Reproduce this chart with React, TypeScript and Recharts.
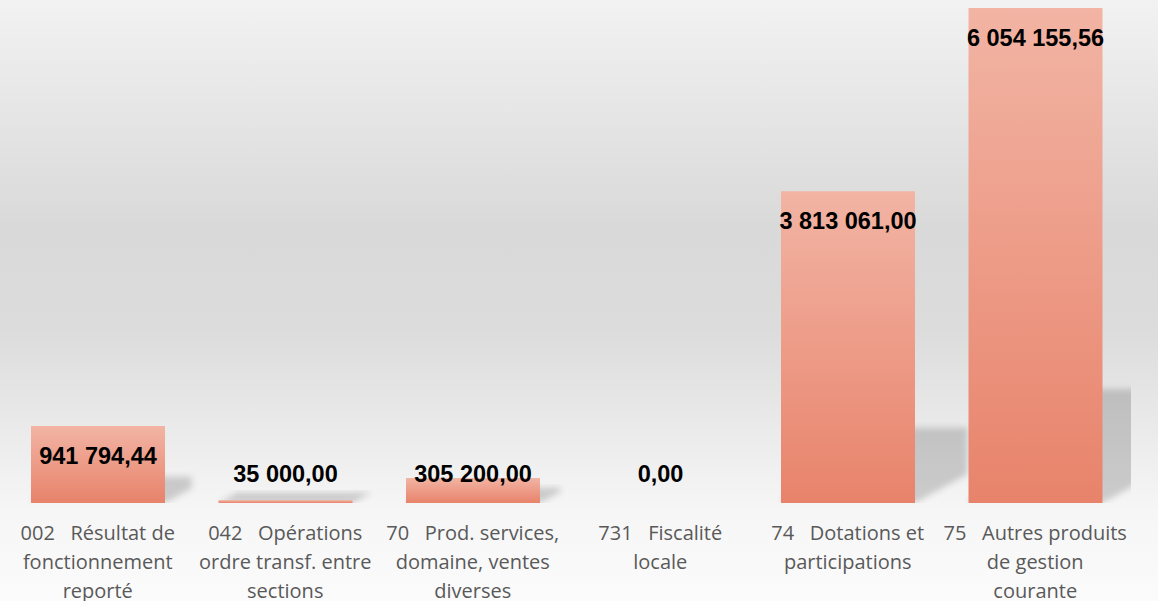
import React from 'react';
import { BarChart, Bar, XAxis, YAxis, LabelList } from 'recharts';

const categories = [
  '002 Résultat de fonctionnement reporté',
  '042 Opérations ordre transf. entre sections',
  '70 Prod. services, domaine, ventes diverses',
  '731 Fiscalité locale',
  '74 Dotations et participations',
  '75 Autres produits de gestion courante',
];

const tickLines = [
  ['002   Résultat de', 'fonctionnement', 'reporté'],
  ['042   Opérations', 'ordre transf. entre', 'sections'],
  ['70   Prod. services,', 'domaine, ventes', 'diverses'],
  ['731   Fiscalité', 'locale'],
  ['74   Dotations et', 'participations'],
  ['75   Autres produits', 'de gestion', 'courante'],
];

const amounts = [941794.44, 35000.0, 305200.0, 0.0, 3813061.0, 6054155.56];

const data = categories.map((name, i) => ({ name, value: amounts[i] }));

const W = 1158;
const H = 601;
const margin = { top: 8, right: 29, left: 4, bottom: 0 };
const axisH = 98;

const fmt = (v: number) => {
  const [i, d] = v.toFixed(2).split('.');
  return i.replace(/\B(?=(\d{3})+(?!\d))/g, ' ') + ',' + d;
};

const BarShape = (props: any) => {
  const { x, y, width, height } = props;
  if (!height || height <= 0) return null;
  const yb = y + height;
  const dx = 18 + 0.11 * height;
  const dy = 0.55 * dx;
  const hs = 0.21 * height + 10;
  const pts = [
    [x, yb],
    [x + width, yb],
    [x + width + dx, yb - dy],
    [x + width + dx, yb - hs],
    [x + dx, yb - hs],
  ]
    .map((p) => p.join(','))
    .join(' ');
  return (
    <g>
      <polygon points={pts} fill="#000" fillOpacity={0.17} filter="url(#shadowBlur)" clipPath="url(#plotClip)" />
      <rect x={x} y={y} width={width} height={height} fill="url(#barGrad)" />
    </g>
  );
};

const ValueLabel = (props: any) => {
  const { x, y, width, height, value } = props;
  const cy = Math.min(y + 30, y + height - 29);
  return (
    <text
      x={x + width / 2}
      y={cy}
      textAnchor="middle"
      dominantBaseline="central"
      fontFamily="'Liberation Sans', Arial, sans-serif"
      fontWeight="bold"
      fontSize={23.5}
      fill="#000"
    >
      {fmt(Number(value))}
    </text>
  );
};

const CategoryTick = (props: any) => {
  const { x, y, payload } = props;
  const lines = tickLines[payload.index] || [String(payload.value)];
  return (
    <g>
      {lines.map((ln, k) => (
        <text
          key={k}
          x={x}
          y={y + 37 + k * 29}
          textAnchor="middle"
          fontFamily="'Open Sans', sans-serif"
          fontSize={20}
          fill="#595959"
          style={{ whiteSpace: 'pre' }}
        >
          {ln}
        </text>
      ))}
    </g>
  );
};

export default function App() {
  return (
    <div
      style={{
        position: 'absolute',
        top: 0,
        left: 0,
        width: W,
        height: H,
        background: 'linear-gradient(to bottom, #f2f2f2 0%, #d9d9d9 38%, #dcdcdc 55%, #f6f6f6 85%, #fbfbfb 100%)',
      }}
    >
      <BarChart width={W} height={H} data={data} margin={margin} barSize={134}>
        <defs>
          <linearGradient id="barGrad" x1="0" y1="0" x2="0" y2="1">
            <stop offset="0%" stopColor="#f2b4a4" />
            <stop offset="100%" stopColor="#e8836b" />
          </linearGradient>
          <filter id="shadowBlur" x="-20%" y="-20%" width="140%" height="140%">
            <feGaussianBlur stdDeviation="3" />
          </filter>
          <clipPath id="plotClip">
            <rect x={margin.left} y={0} width={W - margin.left - margin.right + 2} height={H - axisH} />
          </clipPath>
        </defs>
        <XAxis
          dataKey="name"
          interval={0}
          axisLine={false}
          tickLine={false}
          tickSize={0}
          tickMargin={0}
          height={axisH}
          tick={<CategoryTick />}
        />
        <YAxis hide domain={[0, 'dataMax']} />
        <Bar dataKey="value" shape={<BarShape />} isAnimationActive={false}>
          <LabelList dataKey="value" content={<ValueLabel />} />
        </Bar>
      </BarChart>
    </div>
  );
}
